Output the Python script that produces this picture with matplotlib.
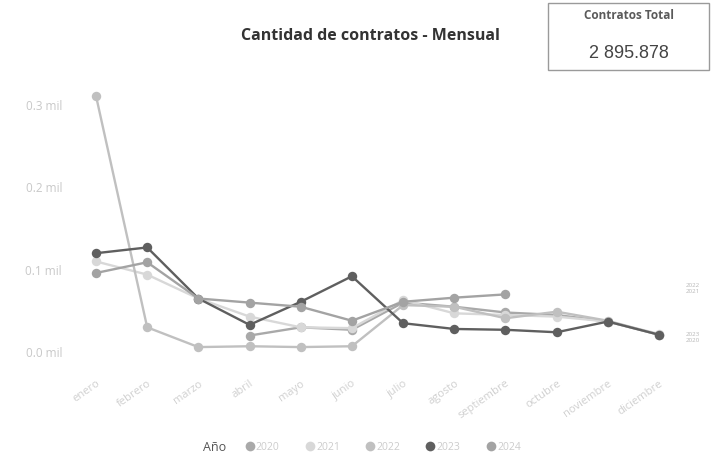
import matplotlib as mp
import matplotlib.pyplot as plt
from matplotlib.lines import Line2D
import numpy as np

mp.rcParams['font.family'] = ['Open Sans', 'DejaVu Sans']

meses = ["enero", "febrero", "marzo", "abril", "mayo", "junio", "julio",
         "agosto", "septiembre", "octubre", "noviembre", "diciembre"]

# monthly contracts, in thousands (None = no data)
c2020 = [None, None, None, 20, 30, 27, 60, 55, 48, 45, 37, 21]
c2021 = [110, 94, 65, 43, 30, 29, 63, 47, 45, 43, 37, 22]
c2022 = [311, 30, 6, 7, 6, 7, 57, 55, 41, 49, 38, 21]
c2023 = [120, 127, 65, 33, 61, 92, 35, 28, 27, 24, 37, 21]
c2024 = [96, 109, 65, 60, 55, 38, 61, 66, 70, None, None, None]

anios = ["2020", "2021", "2022", "2023", "2024"]
series = [c2020, c2021, c2022, c2023, c2024]
colores = ["#a9a9a9", "#d8d8d8", "#c0c0c0", "#5f5f5f", "#a3a3a3"]

ytick_vals = [0, 100, 200, 300]

fig = plt.figure(figsize=(7.12, 4.62), dpi=100)
ax = fig.add_axes([0.0989, 0.2024, 0.8626, 0.6238])

x = np.arange(len(meses))
for anio, vals, col in zip(anios, series, colores):
    y = np.array([np.nan if v is None else v for v in vals], dtype=float)
    ax.plot(x, y, color=col, linewidth=1.7, marker="o", markersize=6.8,
            markeredgewidth=0, label=anio)

ax.set_xlim(-0.5, 11.5)
ax.set_ylim(-20, 330)
ax.set_yticks(ytick_vals)
ax.set_yticklabels(["{:.1f} mil".format(v / 1000) for v in ytick_vals])
ax.set_xticks(x)
ax.set_xticklabels(meses, rotation=35, ha="right", rotation_mode="anchor")
ax.tick_params(axis="y", length=0, pad=6, labelsize=8.5, labelcolor="#c8c8c8")
ax.tick_params(axis="x", length=0, pad=7, labelsize=8, labelcolor="#d0d0d0")
for s in ax.spines.values():
    s.set_visible(False)

fig.text(0.52, 0.922, "Cantidad de contratos - Mensual", ha="center",
         va="center", fontsize=11.5, fontweight="bold", color="#333333")

# KPI card
card = mp.patches.Rectangle((0.77, 0.848), 0.226, 0.146, transform=fig.transFigure,
                            fill=False, edgecolor="#9a9a9a", linewidth=1)
fig.patches.append(card)
fig.text(0.883, 0.966, "Contratos Total", ha="center", va="center",
         fontsize=8.5, color="#5a5a5a", fontweight="bold")
fig.text(0.883, 0.885, "2 895.878", ha="center", va="center",
         fontsize=13, color="#444444", family="Liberation Sans")

# cut-off end labels at right edge
fig.text(0.963, 0.375, "2022\n2021", fontsize=4.5, color="#b8b8b8", va="center")
fig.text(0.963, 0.27, "2023\n2020", fontsize=4.5, color="#b8b8b8", va="center")

# legend
fig.text(0.285, 0.032, "Año", ha="left", va="center", fontsize=9, color="#555555")
handles = [Line2D([], [], linestyle="none", marker="o", markersize=7,
                  markeredgewidth=0, color=c) for c in colores]
fig.legend(handles, anios, loc="center left", bbox_to_anchor=(0.33, 0.032),
           ncol=5, frameon=False, fontsize=7.5, labelcolor="#cccccc",
           handletextpad=0.1, columnspacing=2.4, handlelength=1.0)

fig.savefig("out.png", dpi=100)
